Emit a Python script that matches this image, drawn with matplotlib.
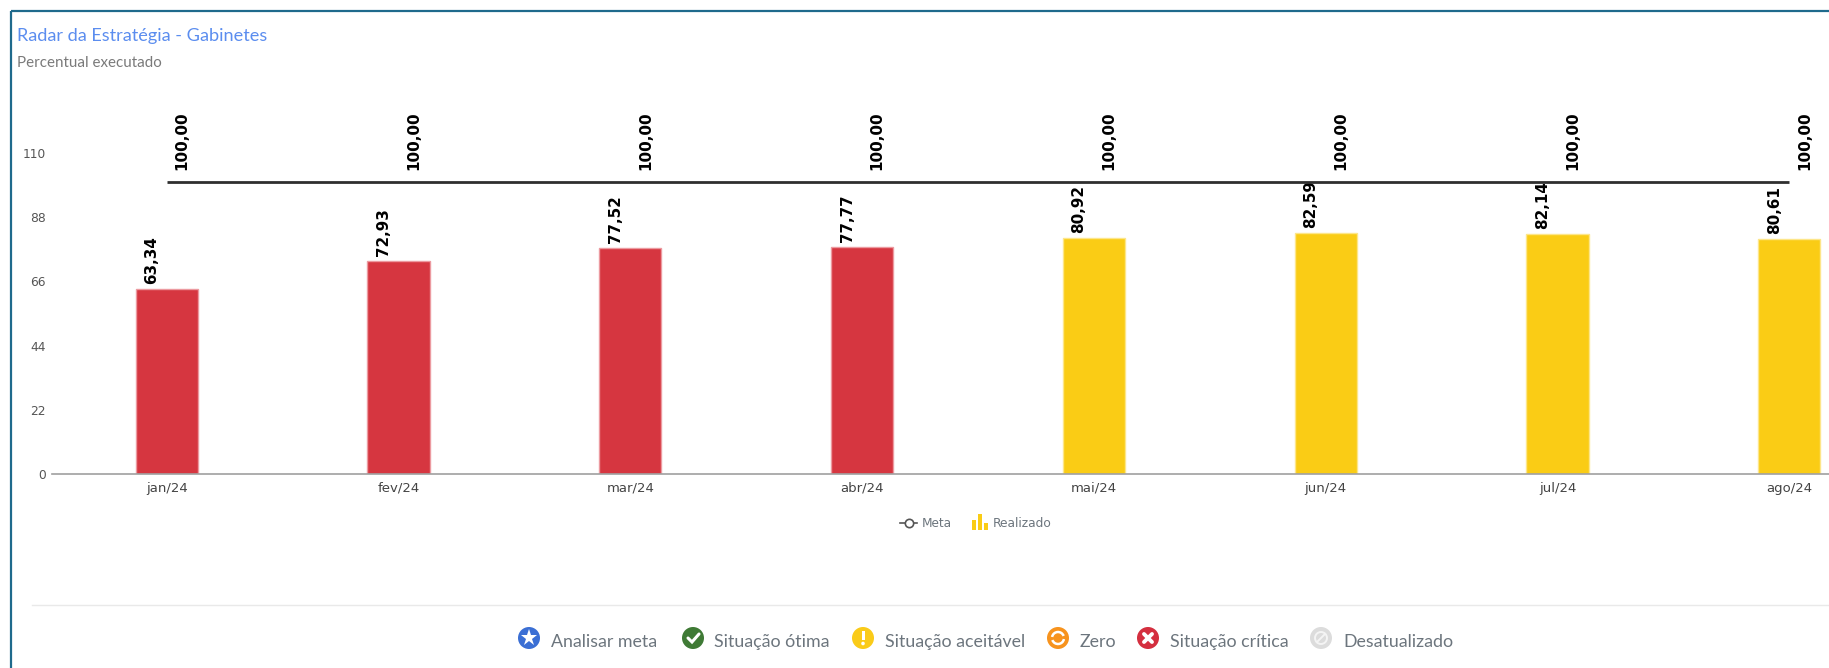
import matplotlib
matplotlib.use("Agg")
import matplotlib.pyplot as plt
from matplotlib.patches import Circle, Rectangle, Arc

W, H = 1829, 668
months = ["jan/24", "fev/24", "mar/24", "abr/24", "mai/24", "jun/24", "jul/24", "ago/24"]
realizado = [63.34, 72.93, 77.52, 77.77, 80.92, 82.59, 82.14, 80.61]
meta = [100, 100, 100, 100, 100, 100, 100, 100]
status = ["crit", "crit", "crit", "crit", "acc", "acc", "acc", "acc"]
y_ticks = [0, 22, 44, 66, 88, 110]
legend_status = ["Analisar meta", "Situação ótima", "Situação aceitável", "Zero", "Situação crítica", "Desatualizado"]

RED, YELLOW = "#d63640", "#facc15"
fills = {"crit": RED, "acc": YELLOW}
edges = {"crit": "#ec9aa0", "acc": "#fde68a"}
UI = "Lato"


def fmt(v):
    return f"{v:.2f}".replace(".", ",")


fig = plt.figure(figsize=(W / 100, H / 100), dpi=100, facecolor="white")

# chart axes, placed by pixel position
x0, x1, y_base, y_top = 52, W, 474, 90
ax = fig.add_axes([x0 / W, 1 - y_base / H, (x1 - x0) / W, (y_base - y_top) / H])
step = 231.8
ax.set_xlim(-0.495, (x1 - x0) / step - 0.495)
ax.set_ylim(0, (y_base - y_top) / 2.918)
xs = range(len(months))

ax.bar(xs, realizado, width=0.268, color=[fills[s] for s in status],
       edgecolor=[edges[s] for s in status], linewidth=1.0, zorder=2)
ax.plot(xs, meta, color="#2f2f2f", lw=2.0, solid_capstyle="butt", zorder=5)

for i, v in zip(xs, realizado):
    ax.annotate(fmt(v), (i, v), xytext=(-15, 5), textcoords="offset pixels", rotation=90,
                ha="center", va="bottom", fontsize=10.9, fontweight="bold", color="black",
                zorder=4, annotation_clip=False)
for i, v in zip(xs, meta):
    ax.annotate(fmt(v), (i, v), xytext=(15, 12), textcoords="offset pixels", rotation=90,
                ha="center", va="bottom", fontsize=10.9, fontweight="bold", color="black",
                zorder=4, annotation_clip=False)

ax.set_xticks(list(xs), months)
ax.set_yticks(y_ticks)
ax.tick_params(axis="x", length=0, pad=5.5, labelsize=9.5, labelcolor="#444444")
ax.tick_params(axis="y", length=0, pad=4.5, labelsize=8.8, labelcolor="#555555")
for s in ["top", "right", "left"]:
    ax.spines[s].set_visible(False)
ax.spines["bottom"].set_color("#a0a0a0")
ax.spines["bottom"].set_linewidth(1.2)
ax.patch.set_alpha(0)

# page overlay in pixel coordinates
ov = fig.add_axes([0, 0, 1, 1], zorder=-1)
ov.set_xlim(0, W)
ov.set_ylim(H, 0)
ov.axis("off")
ov.set_aspect("equal")

BORDER = "#1f6a8c"
ov.plot([11, 11], [11, H], color=BORDER, lw=1.6, solid_capstyle="butt")
ov.plot([11, W], [11, 11], color=BORDER, lw=1.6, solid_capstyle="butt")
ov.plot([32, W], [605, 605], color="#e9e9e9", lw=1.0)

ov.text(17, 36, "Radar da Estratégia - Gabinetes", color="#5b8def", fontsize=13.1,
        family=UI, va="center", ha="left")
ov.text(17, 63, "Percentual executado", color="#7a7a7a", fontsize=10.9,
        family=UI, va="center", ha="left")

# chart legend
ly = 523
ov.plot([900, 917], [ly, ly], color="#555555", lw=1.2)
ov.plot([908.5], [ly], "o", ms=6, mfc="white", mec="#555555", mew=1.2)
ov.text(922, ly + 0.5, "Meta", color="#6c757d", fontsize=8.7, va="center", ha="left")
for bx, bh in [(972, 10), (978, 16), (984, 7)]:
    ov.add_patch(Rectangle((bx, ly + 7 - bh), 4, bh, color=YELLOW, lw=0))
ov.text(993, ly + 0.5, "Realizado", color="#6c757d", fontsize=8.8, va="center", ha="left")

# status legend
icon_x = [529, 693, 863, 1058, 1148, 1321]
text_x = [551, 714, 885, 1080, 1170, 1343]
icon_c = ["#3b6fd4", "#3f7a35", "#facb19", "#f7931e", "#d42f3f", "#dcdcdc"]
iy = 638
R = 11
for lab, ix, tx, c in zip(legend_status, icon_x, text_x, icon_c):
    ov.add_patch(Circle((ix, iy), R, color=c, lw=0))
    ov.text(tx, 642, lab, color="#6c757d", fontsize=12.8, family=UI, va="center", ha="left")

ov.plot([icon_x[0]], [iy], marker="*", ms=12.5, color="white", mew=0)
ov.plot([688, 692, 699], [iy, iy + 4, iy - 4], color="white", lw=2.2, solid_capstyle="round",
        solid_joinstyle="miter")
ov.add_patch(Rectangle((861.5, iy - 7), 3, 9, color="white", lw=0))
ov.add_patch(Circle((863, iy + 5.5), 1.8, color="white", lw=0))
ov.add_patch(Arc((1058, iy), 12, 12, theta1=190, theta2=340, color="white", lw=1.8))
ov.add_patch(Arc((1058, iy), 12, 12, theta1=10, theta2=160, color="white", lw=1.8))
ov.plot([1144, 1152], [iy - 4, iy + 4], color="white", lw=2.8, solid_capstyle="round")
ov.plot([1144, 1152], [iy + 4, iy - 4], color="white", lw=2.8, solid_capstyle="round")
ov.add_patch(Circle((1321, iy), 6, fill=False, ec="#f4f4f4", lw=1.4))
ov.plot([1317, 1325], [iy + 4, iy - 4], color="#f4f4f4", lw=1.4)

fig.savefig("out.png", dpi=100, facecolor="white")
